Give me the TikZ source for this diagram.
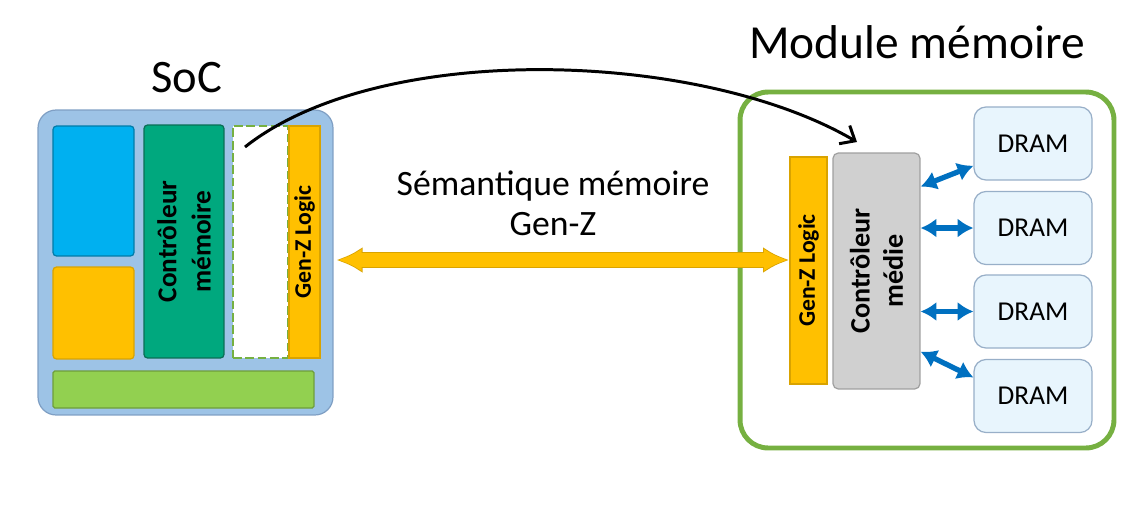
\documentclass[tikz,border=0pt]{standalone}
\usepackage{fontspec}
\setmainfont{Carlito}
\usetikzlibrary{arrows.meta,calc}
\definecolor{socblue}{HTML}{9DC3E6}
\definecolor{socedge}{HTML}{7F9FC4}
\definecolor{cpublue}{HTML}{00B0F0}
\definecolor{gold}{HTML}{FFC000}
\definecolor{goldedge}{HTML}{D9A300}
\definecolor{teal}{HTML}{00A87E}
\definecolor{tealedge}{HTML}{0A6E55}
\definecolor{lime}{HTML}{92D050}
\definecolor{limeedge}{HTML}{6E9E3A}
\definecolor{modgreen}{HTML}{76B041}
\definecolor{ctlgray}{HTML}{D0D0D0}
\definecolor{ctledge}{HTML}{A0A0A0}
\definecolor{dramfill}{HTML}{E8F5FD}
\definecolor{dramedge}{HTML}{98AFC8}
\definecolor{linkblue}{HTML}{0070C0}
\begin{document}
\begin{tikzpicture}[x=0.02cm,y=-0.02cm]
		\tikzset{> = {Straight Barb[length=7pt,width=12pt]}}
		\tikzset{blk/.style = {draw,rounded corners=2pt,inner sep=0pt,line width=0.7pt}}
		\tikzset{vtext/.style = {rotate=90,align=center,inner sep=0pt,font=\fontsize{15.5}{19.5}\selectfont\bfseries}}
		\tikzset{dram/.style = {blk,fill=dramfill,draw=dramedge,rounded corners=0.24cm,minimum width=2.36cm,minimum height=1.46cm,font=\fontsize{15.5}{18}\selectfont}}
		\tikzset{link/.style = {linkblue,line width=3pt,{Latex[length=9pt,width=11pt]}-{Latex[length=9pt,width=11pt]}}}
		\useasboundingbox (0,0) rectangle (1140,518);
		\node[blk,fill=socblue,draw=socedge,rounded corners=0.36cm,minimum width=5.9cm,minimum height=6.1cm] (soc) at (185.5,262.5){};
		\node[blk,fill=cpublue,draw=cpublue!70!black,minimum width=1.62cm,minimum height=2.6cm] (cpu) at (93.5,191){};
		\node[blk,fill=gold,draw=goldedge,minimum width=1.62cm,minimum height=1.84cm] (gpu) at (93.5,313){};
		\node[blk,fill=teal,draw=tealedge,minimum width=1.6cm,minimum height=4.66cm] (mc) at (184,241.5){};
		\node[vtext] at (mc.center){Contrôleur\\mémoire};
		\node[draw=modgreen,fill=white,line width=1.6pt,dash pattern=on 5pt off 2pt,inner sep=0pt,minimum width=1.1cm,minimum height=4.64cm] (slot) at (260.5,242){};
		\node[blk,fill=gold,draw=goldedge,rounded corners=0pt,minimum width=0.62cm,minimum height=4.64cm] (gzl) at (304.5,242){};
		\node[vtext,font=\fontsize{13.5}{16}\selectfont\bfseries] at (gzl.center){Gen-Z Logic};
		\node[blk,fill=lime,draw=limeedge,rounded corners=1pt,minimum width=5.22cm,minimum height=0.74cm] (bus) at (183.5,389.5){};
		\node[font=\fontsize{26.5}{30}\selectfont] (soctitle) at (187,78){SoC};
		\node[draw=modgreen,fill=white,line width=2.8pt,rounded corners=0.56cm,inner sep=0pt,minimum width=7.48cm,minimum height=7.12cm] (mod) at (927,270){};
		\node[font=\fontsize{27}{30}\selectfont] (modtitle) at (917,42){Module mémoire};
		\node[blk,fill=gold,draw=goldedge,rounded corners=0pt,minimum width=0.74cm,minimum height=4.54cm] (gzr) at (808.5,270.5){};
		\node[vtext,font=\fontsize{13.5}{16}\selectfont\bfseries] at (gzr.center){Gen-Z Logic};
		\node[blk,fill=ctlgray,draw=ctledge,rounded corners=3pt,minimum width=1.74cm,minimum height=4.72cm] (mctl) at (876.5,271){};
		\node[vtext,font=\fontsize{16}{19}\selectfont\bfseries] at (mctl.center){Contrôleur\\médie};
		\node[dram] (d1) at (1033,143.5){DRAM};
		\node[dram] (d2) at (1033,228){DRAM};
		\node[dram] (d3) at (1033,311.5){DRAM};
		\node[dram] (d4) at (1033,396){DRAM};
		\node[align=center,font=\fontsize{20.3}{23}\selectfont] (sem) at (553,203){Sémantique mémoire\\Gen-Z};
		\draw[goldedge,line width=9pt,{Latex[length=15pt,width=15pt]}-{Latex[length=15pt,width=15pt]}] ([xshift=1.5pt]soc.east |- 0,260) -- (gzr.west |- 0,260);
		\draw[gold,line width=7.6pt,{Latex[length=13.5pt,width=13pt]}-{Latex[length=13.5pt,width=13pt]}] ([xshift=2.5pt]soc.east |- 0,260) -- ([xshift=-1pt]gzr.west |- 0,260);
		\draw[link] ($(mctl.north east)!0.144!(mctl.south east)$) -- ($(d1.west)!0.6!(d1.south west)$);
		\draw[link] (mctl.east |- d2.west) -- (d2.west);
		\draw[link] (mctl.east |- d3.west) -- (d3.west);
		\draw[link] ($(mctl.north east)!0.84!(mctl.south east)$) -- ($(d4.west)!0.5!(d4.north west)$);
		\coordinate (src) at (245,147);
		\coordinate (dst) at (857,142);
		\draw[->,line width=1.7pt] (src) .. controls (380,40) and (700,50) .. (dst);
	\end{tikzpicture}
\end{document}
